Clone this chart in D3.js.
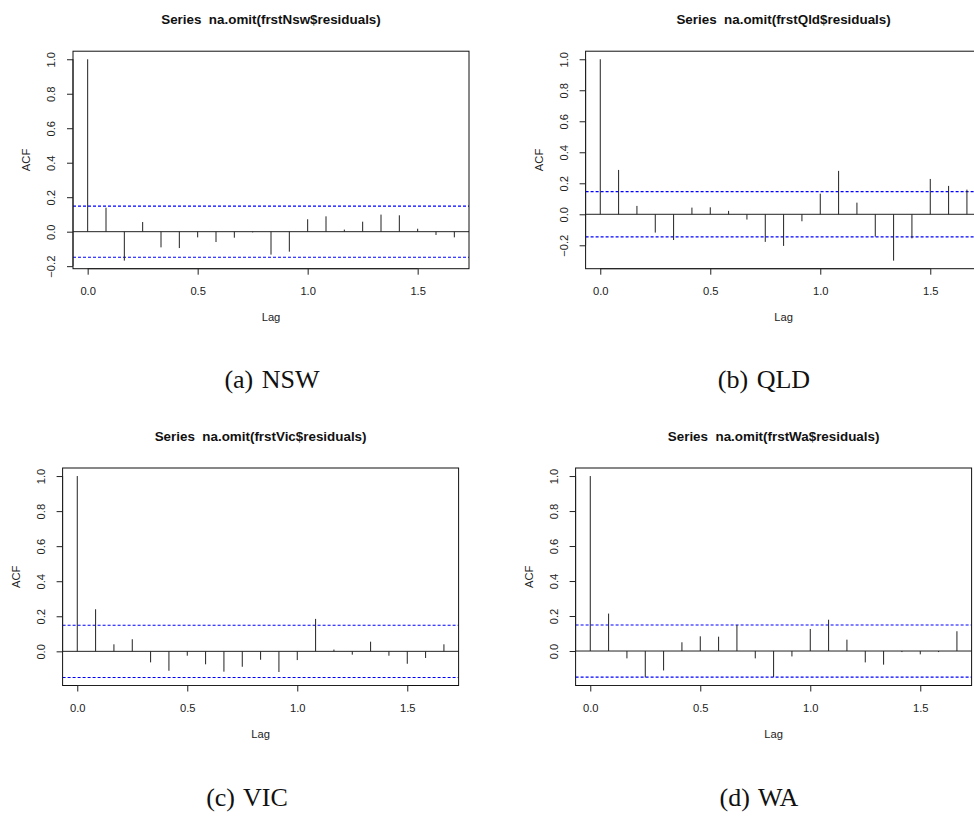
<!DOCTYPE html>
<html>
<head>
<meta charset="utf-8">
<script src="https://cdn.jsdelivr.net/npm/d3@7"></script>
<style>
    html, body { margin: 0; padding: 0; background: #fff; }
    #figure { width: 974px; height: 816px; overflow: hidden; }
</style>
</head>
<body>
<div id="figure"></div>
<script>
// lag index (months); lag in years = step / frequency
const lagSteps = [0, 1, 2, 3, 4, 5, 6, 7, 8, 9, 10, 11, 12, 13, 14, 15, 16, 17, 18, 19, 20];
const frequency = 12;
const lagTicks = [0, 0.5, 1.0, 1.5];
const acfTicks = [-0.2, 0.0, 0.2, 0.4, 0.6, 0.8, 1.0];

const acfNsw = [1.0, 0.139, -0.168, 0.056, -0.091, -0.095, -0.033, -0.060, -0.035, -0.004, -0.133,
    -0.116, 0.072, 0.089, 0.012, 0.058, 0.099, 0.095, 0.017, -0.019, -0.033];
const acfQld = [1.0, 0.286, 0.054, -0.118, -0.166, 0.043, 0.045, 0.022, -0.034, -0.178, -0.204,
    -0.045, 0.133, 0.280, 0.075, -0.144, -0.299, -0.155, 0.228, 0.183, 0.159];
const acfVic = [1.0, 0.240, 0.040, 0.069, -0.063, -0.111, -0.025, -0.074, -0.116, -0.088, -0.048,
    -0.118, -0.050, 0.185, 0.010, -0.019, 0.055, -0.025, -0.071, -0.038, 0.040];
const acfWa = [1.0, 0.214, -0.042, -0.151, -0.111, 0.050, 0.084, 0.082, 0.149, -0.042, -0.149,
    -0.031, 0.126, 0.179, 0.065, -0.065, -0.078, -0.006, -0.019, -0.006, 0.113];

// white-noise confidence bound (+/-)
const ciNsw = 0.148;
const ciQld = 0.146;
const ciVic = 0.149;
const ciWa = 0.149;

const seriesNames = ['frstNsw', 'frstQld', 'frstVic', 'frstWa'];
const captions = ['(a) NSW', '(b) QLD', '(c) VIC', '(d) WA'];

const AcfFigure = {
    // panel placement on the page
    layout: [
        { left: 73.0, top: 51.2, captionX: 272, captionY: 388 },
        { left: 585.6, top: 51.2, captionX: 764, captionY: 388 },
        { left: 62.6, top: 468.0, captionX: 247, captionY: 806 },
        { left: 575.6, top: 468.0, captionX: 759, captionY: 806 }
    ],

    extendRange(lo, hi) {
        const pad = 0.04 * (hi - lo);
        return [lo - pad, hi + pad];
    },

    renderPanel(svg, values, ci, name, caption, pos) {
        const width = 396;
        const height = 217.5;
        const ink = '#222';

        const g = svg.append('g')
            .attr('transform', `translate(${pos.left},${pos.top})`);

        const lags = lagSteps.map(s => s / frequency);
        const xScale = d3.scaleLinear()
            .domain(this.extendRange(d3.min(lags), d3.max(lags)))
            .range([0, width]);

        const yLo = Math.min(d3.min(values), -ci);
        const yHi = Math.max(d3.max(values), ci);
        const yScale = d3.scaleLinear()
            .domain(this.extendRange(yLo, yHi))
            .range([height, 0]);

        // zero line and confidence bounds
        g.append('line')
            .attr('x1', 0).attr('x2', width)
            .attr('y1', yScale(0)).attr('y2', yScale(0))
            .attr('stroke', ink)
            .attr('stroke-width', 1);

        [ci, -ci].forEach(c => {
            g.append('line')
                .attr('x1', 0).attr('x2', width)
                .attr('y1', yScale(c)).attr('y2', yScale(c))
                .attr('stroke', '#0000ff')
                .attr('stroke-width', 1.1)
                .attr('stroke-dasharray', '3,2');
        });

        // spikes
        g.selectAll('line.spike')
            .data(values)
            .enter()
            .append('line')
            .attr('class', 'spike')
            .attr('x1', (d, i) => xScale(lagSteps[i] / frequency))
            .attr('x2', (d, i) => xScale(lagSteps[i] / frequency))
            .attr('y1', yScale(0))
            .attr('y2', d => yScale(d))
            .attr('stroke', ink)
            .attr('stroke-width', 1);

        g.append('rect')
            .attr('x', 0)
            .attr('y', 0)
            .attr('width', width)
            .attr('height', height)
            .attr('fill', 'none')
            .attr('stroke', '#111')
            .attr('stroke-width', 1);

        // x axis
        const xAxis = g.append('g')
            .attr('transform', `translate(0,${height})`)
            .call(d3.axisBottom(xScale)
                .tickValues(lagTicks)
                .tickSize(6)
                .tickFormat(d3.format('.1f')));
        xAxis.select('.domain').remove();
        xAxis.append('line')
            .attr('x1', xScale(lagTicks[0]))
            .attr('x2', xScale(lagTicks[lagTicks.length - 1]))
            .attr('stroke', ink);
        xAxis.selectAll('.tick line').attr('stroke', ink);
        xAxis.selectAll('.tick text')
            .attr('y', 26)
            .attr('dy', 0)
            .attr('fill', '#222')
            .attr('font-family', '"Liberation Sans", Arial, sans-serif')
            .attr('font-size', '11.2px');

        // y axis
        const [dLo, dHi] = yScale.domain();
        const yTicks = acfTicks.filter(t => t >= dLo && t <= dHi);
        const yAxis = g.append('g')
            .call(d3.axisLeft(yScale)
                .tickValues(yTicks)
                .tickSize(6)
                .tickFormat(d3.format('.1f')));
        yAxis.select('.domain').remove();
        yAxis.append('line')
            .attr('y1', yScale(yTicks[0]))
            .attr('y2', yScale(yTicks[yTicks.length - 1]))
            .attr('stroke', ink);
        yAxis.selectAll('.tick line').attr('stroke', ink);
        yAxis.selectAll('.tick text')
            .attr('x', 0)
            .attr('dy', 0)
            .attr('text-anchor', 'middle')
            .attr('transform', 'translate(-18,0) rotate(-90)')
            .attr('fill', '#222')
            .attr('font-family', '"Liberation Sans", Arial, sans-serif')
            .attr('font-size', '11.2px')
            .text(d => d3.format('.1f')(d).replace('-', '\u2212'));

        g.append('text')
            .attr('transform', `translate(-43,${height / 2}) rotate(-90)`)
            .attr('text-anchor', 'middle')
            .attr('fill', '#222')
            .attr('font-family', '"Liberation Sans", Arial, sans-serif')
            .attr('font-size', '11.2px')
            .text('ACF');

        g.append('text')
            .attr('x', width / 2)
            .attr('y', height + 52)
            .attr('text-anchor', 'middle')
            .attr('fill', '#222')
            .attr('font-family', '"Liberation Sans", Arial, sans-serif')
            .attr('font-size', '11.2px')
            .text('Lag');

        g.append('text')
            .attr('x', width / 2)
            .attr('y', -27.5)
            .attr('text-anchor', 'middle')
            .attr('fill', '#111')
            .attr('font-family', '"Liberation Sans", Arial, sans-serif')
            .attr('font-size', '13.4px')
            .attr('font-weight', '700')
            .attr('xml:space', 'preserve')
            .style('white-space', 'pre')
            .text(`Series  na.omit(${name}$residuals)`);

        svg.append('text')
            .attr('x', pos.captionX)
            .attr('y', pos.captionY)
            .attr('text-anchor', 'middle')
            .attr('fill', '#111')
            .attr('font-family', '"Liberation Serif", "Times New Roman", serif')
            .attr('font-size', '26px')
            .attr('word-spacing', '2px')
            .style('white-space', 'pre')
            .text(caption);
    },

    render() {
        const container = document.getElementById('figure');
        container.innerHTML = '';

        const svg = d3.select(container)
            .append('svg')
            .attr('width', 974)
            .attr('height', 816);

        const panels = [
            [acfNsw, ciNsw],
            [acfQld, ciQld],
            [acfVic, ciVic],
            [acfWa, ciWa]
        ];

        panels.forEach(([values, ci], i) => {
            this.renderPanel(svg, values, ci, seriesNames[i], captions[i], this.layout[i]);
        });
    }
};

AcfFigure.render();
</script>
</body>
</html>
